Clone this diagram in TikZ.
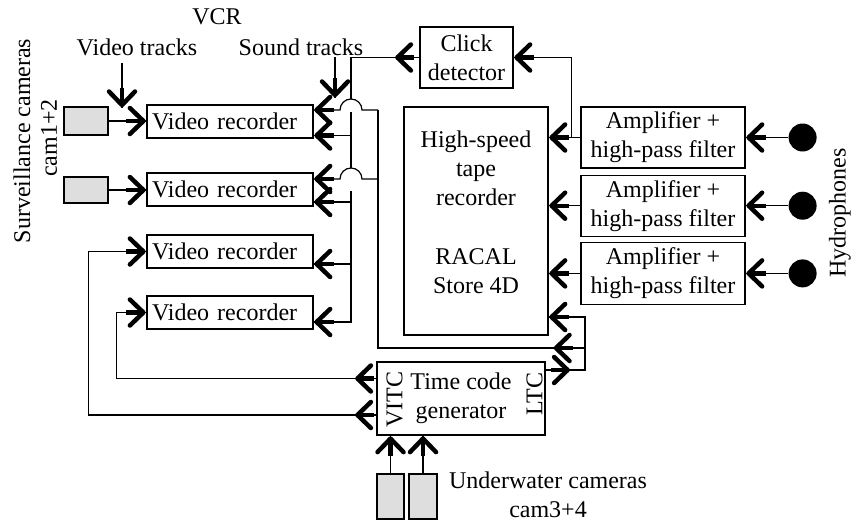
\documentclass[tikz,border=0pt]{standalone}
\usepackage{fontspec}
\setmainfont{Liberation Serif}
\usetikzlibrary{calc,positioning}

\tikzset{
  lbl/.style={inner sep=0pt, font=\fontsize{24}{29}\selectfont},
  box/.style={draw, line width=1.2pt, inner sep=0pt, align=center, font=\fontsize{24}{29}\selectfont},
  vrBox/.style={box, text width=156pt, inner xsep=5pt, align=left, minimum height=33pt},
  camBox/.style={draw, line width=1.2pt, fill=black!13, inner sep=0pt},
  hydro/.style={circle, fill=black, inner sep=0pt, minimum size=28pt},
  wire/.style={line width=1.2pt},
  atEnd/.style={pos=1, sloped, allow upside down},
  % open barb with a short thick shaft, tip at the origin
  barb/.pic={
    \fill (-20pt,-2.2pt) rectangle (-3pt,2.2pt);
    \draw[line width=4.5pt, line cap=round, line join=round] (-16.5pt,13pt) -- (-3pt,0pt) -- (-16.5pt,-13pt);
  }
}

\begin{document}
\begin{tikzpicture}[x=1pt,y=-1pt]
\useasboundingbox (0,0) rectangle (851,522);

% VCR part
\node[lbl] (vcrLbl) at (217,17) {VCR};
\node[lbl] (vidLbl) at (137,47) {Video tracks};
\node[lbl] (sndLbl) at (301,47) {Sound tracks};

\node[vrBox] (vrA) at (230,121.5) {Video recorder};
\node[vrBox] (vrB) at (230,189.5) {Video recorder};
\node[vrBox] (vrC) at (230,251.5) {Video recorder};
\node[vrBox] (vrD) at (230,312.5) {Video recorder};

\coordinate (vidTop) at (122,63);
\coordinate (vidTip) at (122,108);
\coordinate (sndTop) at (335,57);
\coordinate (sndTip) at (335,98);
\draw[line width=2.6pt] (vidTop) -- (vidTip) pic[atEnd]{barb};
\draw[line width=2.6pt] (sndTop) -- (sndTip) pic[atEnd]{barb};

% surveillance cameras
\node[camBox, minimum width=44pt, minimum height=28pt] (camA) at (86,121) {};
\node[camBox, minimum width=44pt, minimum height=26pt] (camB) at (86,190) {};
\node[lbl, rotate=90] (survLbl) at (22,141) {Surveillance cameras};
\node[lbl, rotate=90] (survCam) at (49,138) {cam1+2};
\draw[wire] (camA.east) -- (camA.east -| vrA.west) pic[atEnd]{barb};
\draw[wire] (camB.east) -- (camB.east -| vrB.west) pic[atEnd]{barb};

% recorder and filters
\node[box, minimum width=93pt, minimum height=61pt] (click) at (466.5,57.5) {Click\\detector};
\node[box, minimum width=144pt, minimum height=228pt, text depth=18pt] (tape) at (476,221)
  {High-speed\\tape\\recorder\\[30pt]RACAL\\Store 4D};

\node[box, minimum width=164pt, minimum height=61pt] (ampA) at (663,137.5) {Amplifier +\\high-pass filter};
\node[box, minimum width=164pt, minimum height=61pt, below=6pt of ampA] (ampB) {Amplifier +\\high-pass filter};
\node[box, minimum width=164pt, minimum height=62pt, below=5pt of ampB] (ampC) {Amplifier +\\high-pass filter};

\foreach \amp/\hyd in {ampA/hydA,ampB/hydB,ampC/hydC}{
  \node[hydro] (\hyd) at ($(\amp.east)+(57,0)$) {};
  \draw[wire] (\hyd) -- (\amp.east) pic[atEnd]{barb};
  \draw[wire] (\amp.west) -- (\amp.west -| tape.east) pic[atEnd]{barb};
}
\node[lbl, rotate=90] (hydLbl) at (840,213) {Hydrophones};

\coordinate (clickTap) at ($(ampA.west)+(-9,0)$);
\draw[wire] (clickTap) |- (click.east) pic[atEnd]{barb};

% sound bus from click detector
\draw[wire] (click.west) -- ++(-25,0) pic[atEnd]{barb} coordinate (clickTip) -| (351,99);
\draw[wire] (351,112) -- (351,168);
\draw[wire] (351,191) -- (351,322);
\foreach \vr/\dy in {vrA/14,vrB/12.5,vrC/12.5,vrD/9.5}
  \draw[wire] ($(\vr.east)+(38,\dy)$) -- ++(-38,0) pic[atEnd]{barb};

% time code generator
\node[box, minimum width=168pt, minimum height=73pt] (gen) at (461,398.5) {Time code\\generator};
\node[lbl, rotate=90] (vitc) at (394.5,399.5) {VITC};
\node[lbl, rotate=90] (ltc) at (534.5,394) {LTC};

\node[camBox, minimum width=27pt, minimum height=45pt] (uwA) at (390.5,496.5) {};
\node[camBox, minimum width=28pt, minimum height=45pt] (uwB) at (423,496.5) {};
\node[lbl, align=center] (uwLbl) at (548,495) {Underwater cameras\\cam3+4};
\draw[wire] (uwA.north) -- (uwA.north |- gen.south) pic[atEnd]{barb};
\draw[wire] (uwB.north) -- (uwB.north |- gen.south) pic[atEnd]{barb};

% VITC to video recorders 3+4
\coordinate (vitcA) at ($(gen.west)+(0,-20)$);
\coordinate (vitcB) at ($(gen.west)+(0,16.5)$);
\draw[wire] (vitcA) -- ++(-22,0) pic[atEnd]{barb} -- ++(-238,0) |- (vrD.west) pic[atEnd]{barb};
\draw[wire] (vitcB) -- ++(-22,0) pic[atEnd]{barb} -- ++(-266,0) |- (vrC.west) pic[atEnd]{barb};

% LTC to tape recorder and sound tracks
\coordinate (ltcOut) at ($(gen.east)+(0,-28.5)$);
\coordinate (ltcRight) at (585,317);
\coordinate (ltcBranch) at (585,348);
\coordinate (hopA) at (378,110);
\coordinate (hopB) at (378,179);
\draw[wire] (ltcOut) -- ++(25,0) pic[atEnd]{barb} -| (ltcRight) -- (ltcRight -| tape.east) pic[atEnd]{barb};
\draw[wire] (ltcBranch) -- ++(-32,0) pic[atEnd]{barb} -| (hopA);
\foreach \hop/\vr in {hopA/vrA,hopB/vrB}
  \draw[wire] (\hop) -- ++(-16,0) arc[start angle=0, end angle=180, radius=11pt] -- (\hop -| \vr.east) pic[atEnd]{barb};
\end{tikzpicture}
\end{document}
